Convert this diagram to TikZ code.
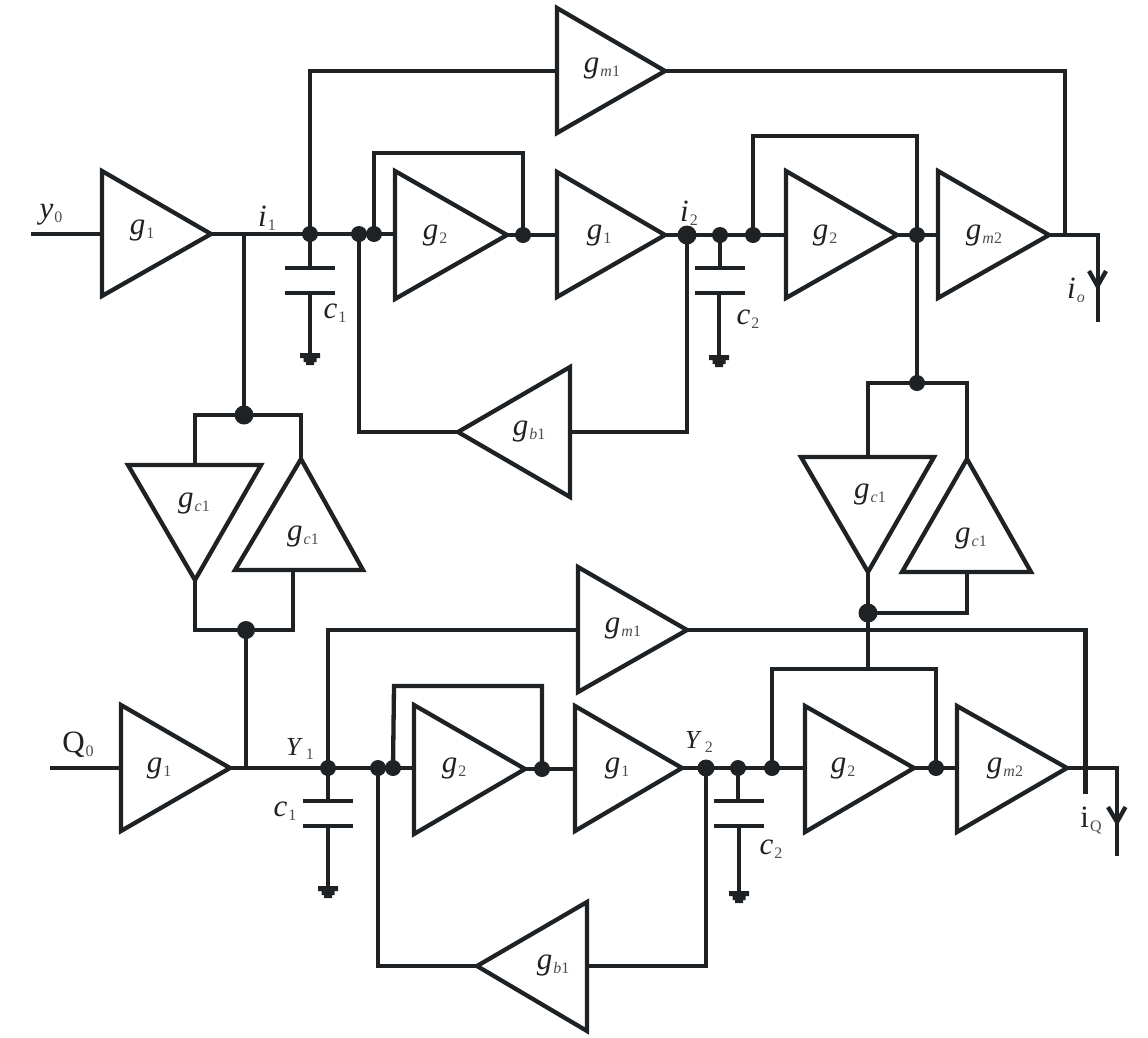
\documentclass[tikz,border=0pt]{standalone}
\usepackage{fontspec}
\setmainfont{Liberation Serif}
\definecolor{ink}{HTML}{1E2225}
\definecolor{subink}{HTML}{4A4D50}
\newcommand{\tri}[7]{%
  \coordinate (#1-a) at (#2,#3);
  \coordinate (#1-b) at (#4,#5);
  \coordinate (#1-c) at (#6,#7);
  \draw[wire,line join=miter] (#1-a) -- (#1-b) -- (#1-c) -- cycle;}
\newcommand{\gnd}[3]{%
  \coordinate (#1) at (#2,#3);
  \fill[ink] ($(#1)+(-10,-2)$) -- ($(#1)+(10,-2)$) -- ($(#1)+(10,3)$) -- ($(#1)+(6.5,3)$) -- ($(#1)+(6.5,7)$) -- ($(#1)+(4,7)$) -- ($(#1)+(4,10)$) -- ($(#1)+(-4,10)$) -- ($(#1)+(-4,7)$) -- ($(#1)+(-6.5,7)$) -- ($(#1)+(-6.5,3)$) -- ($(#1)+(-10,3)$) -- cycle;}
\newcommand{\lab}[5]{\node[lbl] (#1) at (#2,#3) {\fontsize{31}{31}\selectfont #4\raisebox{-4pt}{\hspace{1pt}\fontsize{16}{16}\selectfont\color{subink}#5}};}
\newcommand{\labs}[5]{\node[lbl] (#1) at (#2,#3) {\fontsize{26}{26}\selectfont #4\raisebox{-4pt}{\hspace{3pt}\fontsize{16}{16}\selectfont\color{subink}#5}};}
\newcommand{\gm}[4]{\lab{#1}{#2}{#3}{\textit{g}}{#4}}
\usetikzlibrary{calc}
\tikzset{
  wire/.style={draw=ink,line width=4.3pt,line cap=butt,line join=miter},
  dot/.style={circle,fill=ink,inner sep=0pt,minimum size=16pt},
  bigdot/.style={circle,fill=ink,inner sep=0pt,minimum size=19pt},
  lbl/.style={inner sep=0pt,text=ink},
  plate/.style={wire,line width=4.6pt}
}
\begin{document}
\begin{tikzpicture}[x=1pt,y=-1pt]
\useasboundingbox (0,0) rectangle (1148,1037);
% ---------- amplifiers, upper channel
\tri{A}{102}{171}{102}{296}{211}{234}
\tri{B}{557}{8}{557}{133}{665}{71}
\tri{C}{395}{171}{395}{299}{507}{235}
\tri{D}{557}{172}{557}{297}{665}{235}
\tri{E}{786}{171}{786}{298}{897}{235}
\tri{F}{938}{171}{938}{298}{1049}{235}
\tri{G}{570}{367}{570}{497}{458}{432}
% ---------- coupling amplifiers
\tri{H}{128}{465}{261}{465}{195}{580}
\tri{I}{301}{459}{235}{570}{363}{570}
\tri{J}{801}{457}{934}{457}{868}{572}
\tri{K}{967}{459}{902}{572}{1031}{572}
% ---------- amplifiers, lower channel
\tri{L}{121}{705}{121}{831}{230}{768}
\tri{M}{578}{567}{578}{692}{687}{630}
\tri{N}{414}{705}{414}{834}{525}{769}
\tri{O}{575}{706}{575}{831}{682}{768}
\tri{P}{805}{706}{805}{832}{914}{768}
\tri{Q}{957}{706}{957}{832}{1067}{768}
\tri{R}{587}{902}{587}{1031}{477}{966}
% ---------- junction dots, upper
\node[dot] (t1) at (310,234) {};
\node[dot] (t2) at (359,234) {};
\node[dot] (t3) at (374,234) {};
\node[dot] (t4) at (523,235) {};
\node[bigdot] (t5) at (687,235) {};
\node[dot] (t6) at (720,235) {};
\node[dot] (t7) at (753,235) {};
\node[dot] (t8) at (917,235) {};
\node[dot] (t9) at (917,383) {};
\node[bigdot] (t10) at (244,415) {};
% ---------- junction dots, lower
\node[dot] (b1) at (328,768) {};
\node[dot] (b2) at (378,768) {};
\node[dot] (b3) at (393,768) {};
\node[dot] (b4) at (542,769) {};
\node[bigdot,minimum size=17pt] (b5) at (706,768) {};
\node[dot] (b6) at (738,768) {};
\node[dot] (b7) at (772,768) {};
\node[dot] (b8) at (936,768) {};
\node[bigdot] (b9) at (868,613) {};
\node[bigdot,minimum size=18pt] (b10) at (246,630) {};
% ---------- free ends and corners
\coordinate (yin) at (31,234);
\coordinate (qin) at (50,768);
\coordinate (tap1) at (244,234);
\coordinate (tap2) at (246,768);
\coordinate (outA) at (1098,322);
\coordinate (outB) at (1117,856);
\coordinate (stub) at (1085.5,794);
% ---------- upper wires
\draw[wire] (yin) -- (A-b |- yin);
\draw[wire] (A-c) -- (t1.center) -- (t2.center) -- (t3.center) -- (C-a |- t3);
\draw[wire] (t1.center) |- (B-a |- B-c);
\draw[wire] (B-c) -| (1065,235);
\draw[wire] (F-c) -| (outA);
\draw[wire] (tap1) -- (t10.center);
\draw[wire] (H-a -| H-c) -- (H-c |- t10) -- (t10.center) -- (I-a |- t10) -- (I-a);
\draw[wire] (t2.center) |- (G-c);
\draw[wire] (G-a |- G-c) -| (t5.center);
\draw[wire] (t3.center) |- (t4 |- 0,153) -- (t4.center);
\draw[wire] (C-c) -- (D-a |- C-c);
\draw[wire] (D-c) -- (t5.center) -- (t6.center) -- (t7.center) -- (E-a |- t7);
\draw[wire] (t7.center) |- (t8 |- 0,136) -- (t8.center);
\draw[wire] (t8.center) -- (t9.center);
\draw[wire] (E-c) -- (F-a |- E-c);
\draw[wire] (J-a -| J-c) -- (J-c |- t9) -- (t9.center) -- (K-a |- t9) -- (K-a);
\draw[wire] (J-c) -- (b9.center);
\draw[wire] (b9.center) -| (K-b -| K-a);
% ---------- caps and grounds, upper
\gnd{g1}{310}{355}
\gnd{g2}{719}{357}
\draw[wire] (t1.center) -- (310,268);
\draw[plate] (285,268) -- (335,268);
\draw[plate] (285,293) -- (335,293);
\draw[wire] (310,293) -- (g1);
\draw[wire] (t6.center) -- (720,268);
\draw[plate] (695,268) -- (745,268);
\draw[plate] (695,293) -- (745,293);
\draw[wire] (719,293) -- (g2);
% ---------- output arrows
\draw[wire,line cap=butt] (1089,271) -- (1097.5,286) -- (1106,271);
\draw[wire,line cap=butt] (1108,807) -- (1117,822) -- (1125.5,807);
% ---------- lower wires
\draw[wire] (qin) -- (L-b |- qin);
\draw[wire] (L-c) -- (b1.center) -- (b2.center) -- (b3.center) -- (N-a |- b3);
\draw[wire] (tap2) -- (b10.center);
\draw[wire] (H-c) -- (H-c |- b10) -- (b10.center) -- (293,630) -- (293,570);
\draw[wire] (b1.center) |- (M-a |- M-c);
\draw[wire] (M-c) -| (stub);
\draw[wire] (Q-c) -| (outB);
\draw[wire] (b2.center) |- (R-c);
\draw[wire] (R-a |- R-c) -| (b5.center);
\draw[wire] (b3.center) -- (394,686) -- (b4 |- 0,686) -- (b4.center);
\draw[wire] (N-c) -- (O-a |- N-c);
\draw[wire] (O-c) -- (b5.center) -- (b6.center) -- (b7.center) -- (P-a |- b7);
\draw[wire] (P-c) -- (Q-a |- P-c);
\draw[wire] (b9.center) -- (868,669);
\draw[wire] (b7.center) |- (b8 |- 0,669) -- (b8.center);
% ---------- caps and grounds, lower
\gnd{g3}{328}{888}
\gnd{g4}{739}{893}
\draw[wire] (b1.center) -- (328,801);
\draw[plate] (303,801) -- (353,801);
\draw[plate] (303,826) -- (353,826);
\draw[wire] (328,826) -- (g3);
\draw[wire] (b6.center) -- (738,801);
\draw[plate] (714,801) -- (764,801);
\draw[plate] (714,826) -- (764,826);
\draw[wire] (739,826) -- (g4);
% ---------- labels
\gm{la}{142}{230}{1}
\gm{lb}{602}{68}{\textit{m}1}
\gm{lc}{435}{235}{2}
\gm{ld}{599}{235}{1}
\gm{le}{825}{235}{2}
\gm{lf}{984}{235}{\textit{m}2}
\gm{lg}{529}{431}{\textit{b}1}
\gm{lh}{194}{503}{\textit{c}1}
\gm{li}{303}{536}{\textit{c}1}
\gm{lj}{870}{494}{\textit{c}1}
\gm{lk}{971}{538}{\textit{c}1}
\gm{ll}{159}{768}{1}
\gm{lm}{623}{628}{\textit{m}1}
\gm{ln}{454}{768}{2}
\gm{lo}{617}{768}{1}
\gm{lp}{843}{768}{2}
\gm{lq}{1005}{768}{\textit{m}2}
\gm{lr}{553}{965}{\textit{b}1}
\lab{ly}{51}{215}{\textit{y}}{0}
\lab{lq0}{78}{745}{Q}{0}
\lab{li1}{267}{218}{\textit{i}}{1}
\lab{li2}{689}{213}{\textit{i}}{2}
\lab{lc1}{335}{313}{\textit{c}}{1}
\lab{lc2}{748}{319}{\textit{c}}{2}
\lab{lio}{1076}{290}{\textit{i}}{\textit{o}}
\lab{lc3}{285}{811}{\textit{c}}{1}
\lab{lc4}{771}{849}{\textit{c}}{2}
\lab{liq}{1091}{821}{i}{Q}
\labs{lu1}{300}{749}{\textit{Υ}}{1}
\labs{lu2}{699}{742}{\textit{Υ}}{2}
\end{tikzpicture}
\end{document}
